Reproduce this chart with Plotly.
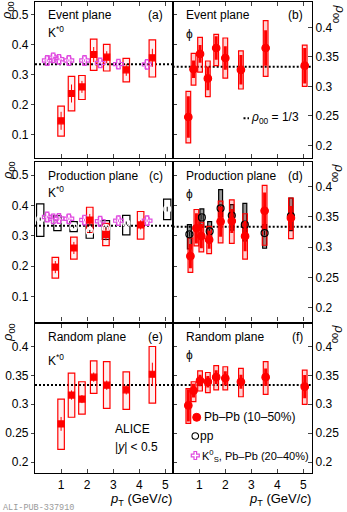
import plotly.graph_objects as go

# ---------------- data ----------------
# K*0, Pb-Pb (10-50%)
k_pt = [1.0, 1.4, 1.8, 2.25, 2.75, 3.5, 4.5]
k_ep_val = [0.145, 0.236, 0.258, 0.366, 0.357, 0.315, 0.355]
k_ep_lo = [0.094, 0.178, 0.216, 0.313, 0.311, 0.275, 0.291]
k_ep_hi = [0.194, 0.293, 0.296, 0.417, 0.400, 0.353, 0.415]
k_ep_stat = [0.03, 0.03, 0.02, 0.025, 0.02, 0.02, 0.03]

k_rp_val = [0.266, 0.316, 0.309, 0.347, 0.333, 0.325, 0.352]
k_rp_lo = [0.222, 0.2775, 0.283, 0.319, 0.293, 0.291, 0.302]
k_rp_hi = [0.309, 0.354, 0.339, 0.375, 0.374, 0.356, 0.400]
k_rp_stat = [0.012, 0.008, 0.007, 0.008, 0.008, 0.008, 0.02]

k_pp_pt = [0.78, 1.49, 2.1, 2.72, 4.05]
k_pp_val = [0.197, 0.260, 0.352, 0.305, 0.336]
k_pp_lo = [0.161, 0.223, 0.311, 0.268, 0.289]
k_pp_hi = [0.229, 0.296, 0.394, 0.341, 0.380]
k_pp_stat = [0.02, 0.02, 0.02, 0.02, 0.015]

# K*0, pp (production plane)
kpp_pt = [0.2, 0.86, 1.48, 2.1, 2.72, 3.5, 5.07]
kpp_val = [0.355, 0.348, 0.330, 0.314, 0.325, 0.342, 0.388]
kpp_lo = [0.298, 0.317, 0.314, 0.292, 0.288, 0.303, 0.353]
kpp_hi = [0.405, 0.366, 0.347, 0.336, 0.350, 0.367, 0.421]
kpp_stat = [0.005, 0.005, 0.005, 0.005, 0.005, 0.005, 0.008]

# K0S, Pb-Pb (20-40%)
ks_pt = [0.47, 0.7, 0.92, 1.3, 1.9, 2.5, 3.2, 4.3]
ks_ep_val = [0.346, 0.355, 0.350, 0.346, 0.346, 0.338, 0.334, 0.333]
ks_pp_val = [0.362, 0.356, 0.357, 0.356, 0.352, 0.348, 0.350, 0.350]
ks_sys = 0.015

# phi, Pb-Pb (10-50%)
phi_pt = [0.58, 0.78, 1.03, 1.33, 1.65, 2.0, 2.6, 3.55, 5.05]
phi_ep_val = [0.248, 0.329, 0.355, 0.3135, 0.365, 0.348, 0.328, 0.365, 0.335]
phi_ep_lo = [0.204, 0.302, 0.324, 0.2825, 0.335, 0.314, 0.2955, 0.317, 0.300]
phi_ep_hi = [0.2915, 0.356, 0.383, 0.343, 0.388, 0.382, 0.360, 0.4115, 0.370]
phi_ep_stat = [0.035, 0.015, 0.015, 0.02, 0.02, 0.02, 0.025, 0.03, 0.03]

phi_rp_val = [0.298, 0.3236, 0.341, 0.339, 0.347, 0.345, 0.339, 0.347, 0.3305]
phi_rp_lo = [0.267, 0.3046, 0.323, 0.320, 0.325, 0.325, 0.313, 0.317, 0.300]
phi_rp_hi = [0.327, 0.339, 0.358, 0.355, 0.367, 0.365, 0.362, 0.374, 0.359]
phi_rp_stat = [0.028, 0.012, 0.01, 0.01, 0.012, 0.012, 0.012, 0.015, 0.02]

phi_pp_pt = [0.66, 0.89, 1.08, 1.38, 1.82, 2.25, 2.76, 3.51, 4.52]
phi_pp_val = [0.285, 0.331, 0.318, 0.312, 0.342, 0.343, 0.318, 0.360, 0.348]
phi_pp_lo = [0.258, 0.302, 0.292, 0.289, 0.307, 0.306, 0.280, 0.303, 0.314]
phi_pp_hi = [0.315, 0.362, 0.341, 0.334, 0.376, 0.378, 0.355, 0.402, 0.381]
phi_pp_stat = [0.02, 0.025, 0.02, 0.015, 0.025, 0.02, 0.025, 0.03, 0.02]

# phi, pp (production plane)
phipp_pt = [0.62, 1.1, 1.4, 1.82, 2.25, 2.75, 3.51, 4.52]
phipp_val = [0.321, 0.349, 0.326, 0.364, 0.352, 0.337, 0.323, 0.351]
phipp_lo = [0.297, 0.333, 0.312, 0.350, 0.328, 0.310, 0.298, 0.327]
phipp_hi = [0.337, 0.363, 0.342, 0.395, 0.370, 0.372, 0.337, 0.381]
phipp_stat = [0.004, 0.004, 0.004, 0.004, 0.004, 0.004, 0.004, 0.004]

xticks = [1, 2, 3, 4, 5]

# ---------------- layout helpers ----------------
FONT = "Liberation Sans, Arial, sans-serif"
W, H = 347, 512
ML, MR, MT, MB = 35, 35, 2, 39
RED = "#FF0000"
MAG = "#E04BE0"


def fx(p):
    return (p - ML) / (W - ML - MR)


def fy(p):
    return (H - MB - p) / (H - MT - MB)


cols = [[0, fx(172.7)], [fx(172.7), 1]]
rows = [[fy(158.3), 1], [fy(321.5), fy(162.3)], [0, fy(324)]]
xranges = [[0, 5.28], [-0.02, 5.33]]
yranges = [[[0.02, 0.541], [0.178, 0.443]],
           [[0.018, 0.542], [0.177, 0.440]],
           [[0.181, 0.439], [0.181, 0.439]]]

fig = go.Figure()
lay = {}
names = []
for i in range(6):
    r, c = i // 2, i % 2
    sfx = "" if i == 0 else str(i + 1)
    xa, ya = "x" + sfx, "y" + sfx
    names.append((xa, ya))
    lay["xaxis" + sfx] = dict(
        domain=cols[c], anchor=ya, range=xranges[c], tickvals=xticks,
        ticks="inside", ticklen=4, mirror="ticks", showline=True,
        linecolor="black", linewidth=1.2, showgrid=False, zeroline=False,
        showticklabels=(r == 2), tickfont=dict(size=12))
    left = (c == 0)
    dt = 0.1 if (left and r < 2) else 0.05
    lay["yaxis" + sfx] = dict(
        domain=rows[r], anchor=xa, range=yranges[r][c], dtick=dt, tick0=0,
        side="left" if left else "right",
        ticks="outside" if left else "inside", ticklen=3 if left else 4,
        mirror="ticks" if left else True, showline=True,
        linecolor="black", linewidth=1.2, showgrid=False, zeroline=False,
        tickfont=dict(size=12))


def add_boxes(xa, ya, pt, lo, hi, half, color, fill, width=1.2, dash="solid"):
    for x, l, h in zip(pt, lo, hi):
        fig.add_shape(type="rect", xref=xa, yref=ya, x0=x - half, x1=x + half,
                      y0=l, y1=h, line=dict(color=color, width=width, dash=dash),
                      fillcolor=fill, layer="below")


def add_points(xa, ya, pt, val, stat, color, symbol, size, thick, fill=None):
    fig.add_trace(go.Scatter(
        x=pt, y=val, xaxis=xa, yaxis=ya, mode="markers",
        marker=dict(symbol=symbol, size=size, color=fill or color,
                    line=dict(width=1.2, color=color)),
        error_y=dict(type="data", array=stat, color=color, thickness=thick, width=0),
        showlegend=False, hoverinfo="skip"))


def third_line(xa, ya):
    fig.add_shape(type="line", xref=xa + " domain", x0=0, x1=1, yref=ya,
                  y0=1 / 3, y1=1 / 3, layer="below",
                  line=dict(color="black", width=2, dash="2px,2px"))


ks_lo_ep = [v - ks_sys for v in ks_ep_val]
ks_hi_ep = [v + ks_sys for v in ks_ep_val]
ks_lo_pp = [v - ks_sys for v in ks_pp_val]
ks_hi_pp = [v + ks_sys for v in ks_pp_val]
ks_stat = [0.004] * len(ks_pt)

# (a) K*0 event plane
xa, ya = names[0]
add_boxes(xa, ya, ks_pt, ks_lo_ep, ks_hi_ep, 0.08, MAG, "rgba(0,0,0,0)", 1, "2px,1.5px")
add_boxes(xa, ya, k_pt, k_ep_lo, k_ep_hi, 0.125, RED, "rgba(255,0,0,0.06)")
third_line(xa, ya)
add_points(xa, ya, ks_pt, ks_ep_val, ks_stat, MAG, "cross-open", 8, 1)
add_points(xa, ya, k_pt, k_ep_val, k_ep_stat, RED, "square", 6, 1)

# (b) phi event plane
xa, ya = names[1]
add_boxes(xa, ya, phi_pt, phi_ep_lo, phi_ep_hi, 0.09, RED, "rgba(255,0,0,0.18)")
third_line(xa, ya)
add_points(xa, ya, phi_pt, phi_ep_val, phi_ep_stat, RED, "circle", 7.5, 3)

# (c) K*0 production plane
xa, ya = names[2]
add_boxes(xa, ya, kpp_pt, kpp_lo, kpp_hi, 0.14, "black", "rgba(0,0,0,0)")
add_boxes(xa, ya, ks_pt, ks_lo_pp, ks_hi_pp, 0.08, MAG, "rgba(0,0,0,0)", 1, "2px,1.5px")
add_boxes(xa, ya, k_pp_pt, k_pp_lo, k_pp_hi, 0.125, RED, "rgba(255,0,0,0.06)")
third_line(xa, ya)
add_points(xa, ya, kpp_pt, kpp_val, kpp_stat, "black", "circle-open", 7, 1, "white")
add_points(xa, ya, ks_pt, ks_pp_val, ks_stat, MAG, "cross-open", 8, 1)
add_points(xa, ya, k_pp_pt, k_pp_val, k_pp_stat, RED, "square", 6, 1)

# (d) phi production plane
xa, ya = names[3]
add_boxes(xa, ya, phipp_pt, phipp_lo, phipp_hi, 0.075, "black", "rgba(0,0,0,0.4)")
add_boxes(xa, ya, phi_pp_pt, phi_pp_lo, phi_pp_hi, 0.09, RED, "rgba(255,0,0,0.18)")
third_line(xa, ya)
add_points(xa, ya, phipp_pt, phipp_val, phipp_stat, "black", "circle-open", 7, 1)
add_points(xa, ya, phi_pp_pt, phi_pp_val, phi_pp_stat, RED, "circle", 7.5, 3)

# (e) K*0 random plane
xa, ya = names[4]
add_boxes(xa, ya, k_pt, k_rp_lo, k_rp_hi, 0.125, RED, "rgba(255,0,0,0.06)")
third_line(xa, ya)
add_points(xa, ya, k_pt, k_rp_val, k_rp_stat, RED, "square", 6, 1)

# (f) phi random plane
xa, ya = names[5]
add_boxes(xa, ya, phi_pt, phi_rp_lo, phi_rp_hi, 0.09, RED, "rgba(255,0,0,0.18)")
third_line(xa, ya)
add_points(xa, ya, phi_pt, phi_rp_val, phi_rp_stat, RED, "circle", 7.5, 3)

# ---------------- text ----------------
ann = []


def text(t, x, y, anchor="left", size=12, angle=0, color="black", family=FONT):
    ann.append(dict(text=t, x=fx(x), y=fy(y), xref="paper", yref="paper",
                    xanchor=anchor, yanchor="middle", showarrow=False,
                    textangle=angle, font=dict(size=size, color=color, family=family)))


labels = [
    ("Event plane", "(a)", "K<sup>*0</sup>", 15, 32),
    ("Event plane", "(b)", "ϕ", 15, 34),
    ("Production plane", "(c)", "K<sup>*0</sup>", 175.5, 192),
    ("Production plane", "(d)", "ϕ", 175.5, 194),
    ("Random plane", "(e)", "K<sup>*0</sup>", 336.7, 360),
    ("Random plane", "(f)", "ϕ", 336.7, 355),
]
for i, (title, tag, part, yt, yp) in enumerate(labels):
    left = i % 2 == 0
    x0 = 45.5 if left else 183.5
    x1 = 165 if left else 304.5
    text(title, x0, yt)
    text(tag, x1, yt, "right")
    text(part, x0, yp)

text("ALICE", 112.5, 429)
text("|<i>y</i>| < 0.5", 112.5, 446.7)

rho = "<i>ρ</i><sub>00</sub>"
for yl, yr in [(11, 14), (171, 173), (333, 334)]:
    text(rho, 8, yl, "center", 13, -90)
    text(rho, 338.5, yr, "center", 13, 90)

pt_title = "<i>p</i><sub>T</sub> (GeV/<i>c</i>)"
text(pt_title, 173.5, 499, "right", 13)
text(pt_title, 312.5, 499, "right", 13)

text("ALI-PUB-337910", 1, 507.5, "left", 8.5, 0, "#9a9a9a", "Liberation Mono, monospace")

# legend (b)
fig.add_shape(type="line", xref="paper", yref="paper", x0=fx(243.5), x1=fx(249),
              y0=fy(118.3), y1=fy(118.3),
              line=dict(color="black", width=2, dash="2px,2px"))
text("<i>ρ</i><sub>00</sub> = 1/3", 248.5, 118.3)

# legend (f)
fig.add_shape(type="circle", xref="paper", yref="paper", xsizemode="pixel",
              ysizemode="pixel", xanchor=fx(196.7), yanchor=fy(417.3),
              x0=-4, x1=4, y0=-4, y1=4, fillcolor=RED, line=dict(color=RED, width=1))
fig.add_shape(type="circle", xref="paper", yref="paper", xsizemode="pixel",
              ysizemode="pixel", xanchor=fx(195.3), yanchor=fy(436),
              x0=-3.3, x1=3.3, y0=-3.3, y1=3.3, line=dict(color="black", width=1.1))
fig.add_shape(type="path", xref="paper", yref="paper", xsizemode="pixel",
              ysizemode="pixel", xanchor=fx(195.3), yanchor=fy(455.5),
              path="M-1.3,-4 H1.3 V-1.3 H4 V1.3 H1.3 V4 H-1.3 V1.3 H-4 V-1.3 H-1.3 Z",
              line=dict(color=MAG, width=1.2))
text("Pb–Pb (10–50%)", 201.5, 417.3)
text("pp", 198, 436)
text("K<sup>0</sup><sub>S</sub>, Pb–Pb (20–40%)", 199.5, 455.5, "left", 11)

fig.update_layout(
    width=W, height=H, margin=dict(l=ML, r=MR, t=MT, b=MB),
    plot_bgcolor="white", paper_bgcolor="white", showlegend=False,
    font=dict(family=FONT, size=12, color="black"), annotations=ann, **lay)

# remove the default page margin so the figure sits at the window's corner
fig.write_html("out.html", config={"displayModeBar": False},
               post_script="document.body.style.margin='0';")
